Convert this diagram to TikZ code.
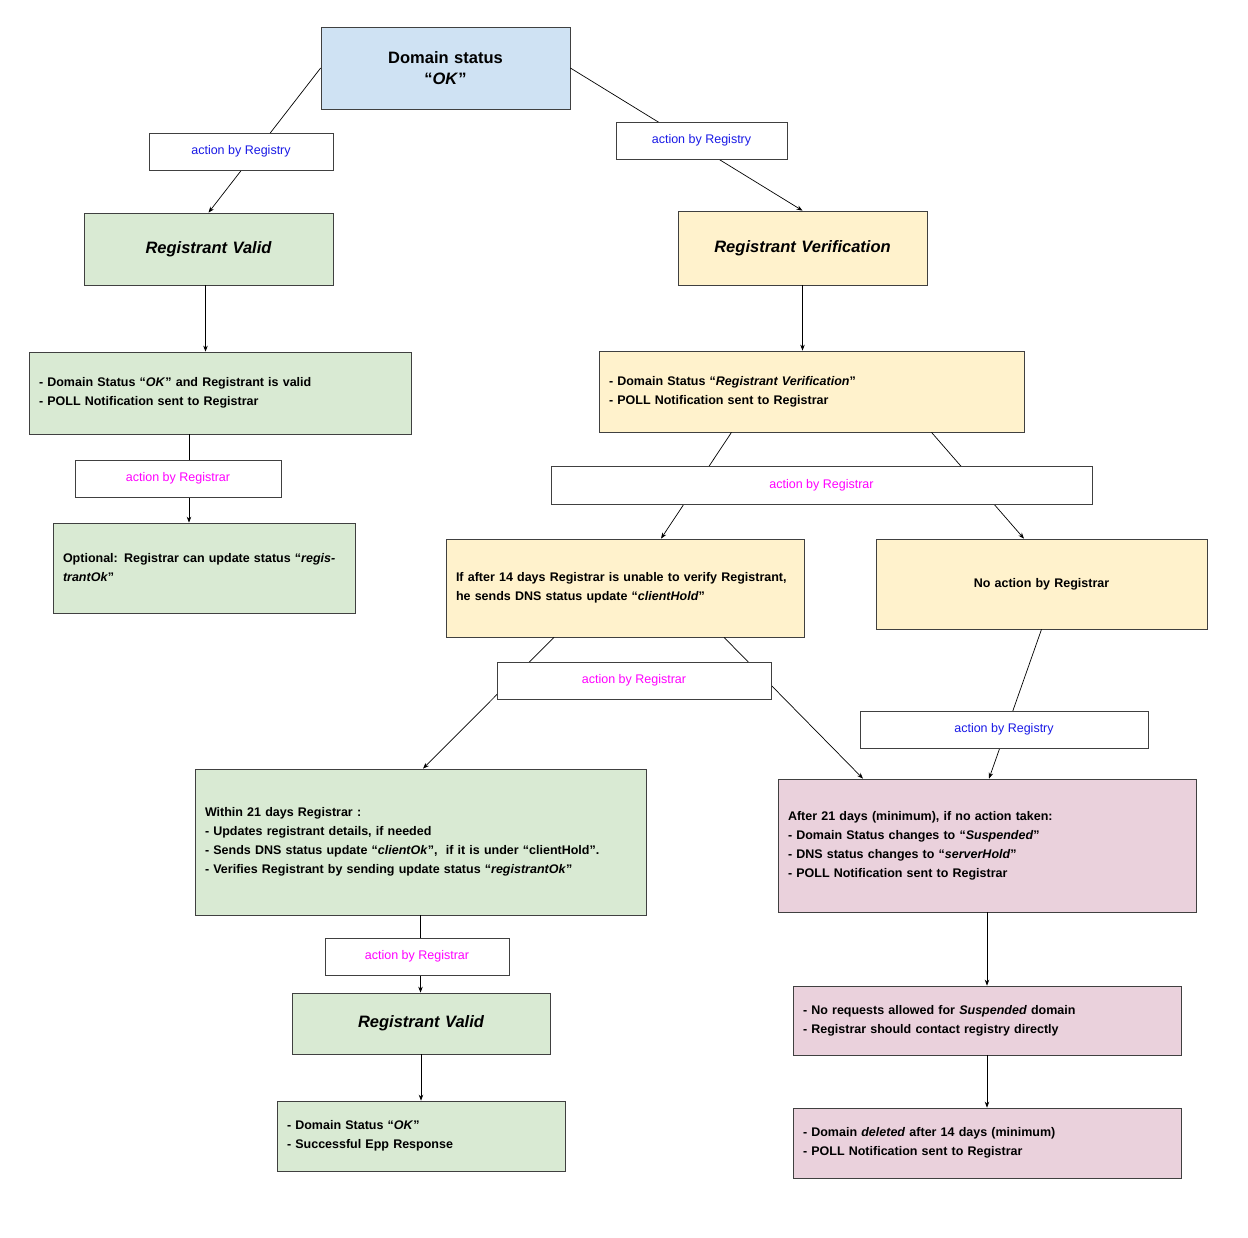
\documentclass[tikz,border=0pt]{standalone}
\usepackage{fontspec}
\setmainfont{Liberation Sans}
\usetikzlibrary{arrows.meta}
\definecolor{gfill}{HTML}{D9EAD3}
\definecolor{yfill}{HTML}{FFF2CC}
\definecolor{bfill}{HTML}{CFE2F3}
\definecolor{pfill}{HTML}{EAD1DC}
\definecolor{bordc}{HTML}{404040}
\definecolor{regy}{HTML}{1A1AE6}
\definecolor{regr}{HTML}{FF00FF}
\tikzset{
  box/.style={draw=bordc,line width=0.7pt,inner sep=0pt,font=\fontsize{12.5}{19}\selectfont\bfseries},
  lbl/.style={draw=bordc,fill=white,line width=0.7pt,inner sep=0pt,font=\fontsize{12.5}{15}\selectfont},
  conn/.style={line width=0.7pt,-{Stealth[length=6pt,width=4.5pt]}},
  plain/.style={line width=0.7pt}
}
\newcommand{\bx}[7]{\node[box,fill=#4,minimum width=#5pt,minimum height=#6pt,text width=#5pt-20pt,#7] (#1) at (#2,#3)}
\newcommand{\lb}[6]{\node[lbl,minimum width=#4pt,minimum height=#5pt,text=#6] (#1) at (#2,#3)}
\begin{document}
\begin{tikzpicture}[x=1pt,y=-1pt]
\useasboundingbox (0,0) rectangle (1248,1238);
\bx{OK}{445.5}{68}{bfill}{249}{82}{align=center,font=\fontsize{16.5}{21}\selectfont\bfseries}{Domain status\\ “\textit{OK}”};
\bx{RVa}{208.5}{249}{gfill}{249}{72}{align=center,font=\fontsize{16.5}{21}\selectfont\bfseries\itshape}{Registrant Valid};
\bx{RVer}{802.5}{248}{yfill}{249}{74}{align=center,font=\fontsize{16.5}{21}\selectfont\bfseries\itshape}{Registrant Verification};
\bx{G2}{220}{393}{gfill}{382}{82}{align=left}{- Domain Status “\textit{OK}” and Registrant is valid\\- POLL Notification sent to Registrar};
\bx{Y2}{811.5}{391.5}{yfill}{425}{81}{align=left}{- Domain Status “\textit{Registrant Verification}”\\- POLL Notification sent to Registrar};
\bx{G3}{204}{568}{gfill}{302}{90}{align=left}{Optional: Registrar can update status “\textit{registrantOk}”};
\bx{Y3}{625}{588}{yfill}{358}{98}{align=left}{If after 14 days Registrar is unable to verify Registrant, he sends DNS status update “\textit{clientHold}”};
\bx{Y4}{1041.5}{584}{yfill}{331}{90}{align=center}{No action by Registrar};
\bx{G4}{420.5}{842}{gfill}{451}{146}{align=left}{Within 21 days Registrar :\\- Updates registrant details, if needed\\- Sends DNS status update “\textit{clientOk}”,~ if it is under “clientHold”.\\- Verifies Registrant by sending update status “\textit{registrantOk}”};
\bx{P1}{987}{845.5}{pfill}{418}{133}{align=left}{After 21 days (minimum), if no action taken:\\- Domain Status changes to “\textit{Suspended}”\\- DNS status changes to “\textit{serverHold}”\\- POLL Notification sent to Registrar};
\bx{G5}{421}{1023.5}{gfill}{258}{61}{align=center,font=\fontsize{16.5}{21}\selectfont\bfseries\itshape}{Registrant Valid};
\bx{P2}{987}{1020.5}{pfill}{388}{69}{align=left}{- No requests allowed for \textit{Suspended} domain\\- Registrar should contact registry directly};
\bx{G6}{421}{1136}{gfill}{288}{70}{align=left}{- Domain Status “\textit{OK}”\\- Successful Epp Response};
\bx{P3}{987}{1143}{pfill}{388}{70}{align=left}{- Domain \textit{deleted} after 14 days (minimum)\\- POLL Notification sent to Registrar};
% connectors
\draw[conn] (OK.west) -- (RVa.north);
\draw[conn] (OK.east) -- (RVer.north);
\draw[conn] ([xshift=-3pt]RVa.south) -- ([xshift=-3pt]RVa.south |- G2.north);
\draw[conn] (RVer.south) -- (RVer.south |- Y2.north);
\draw[conn] ([xshift=-31pt]G2.south) -- ([xshift=-15pt]G3.north);
\draw[conn] ([xshift=-80pt]Y2.south) -- ([xshift=36pt]Y3.north);
\draw[conn] ([xshift=120pt]Y2.south) -- (Y4.north west -| 1024,0);
\draw[conn] ([xshift=-71pt]Y3.south) -- ([xshift=2.5pt]G4.north);
\draw[conn] ([xshift=99pt]Y3.south) -- ([xshift=-124pt]P1.north);
\draw[conn] (Y4.south) -- ([xshift=2pt]P1.north);
\draw[conn] (G4.south) -- (G4.south |- G5.north);
\draw[conn] (G5.south) -- (G6.north);
\draw[conn] (P1.south) -- (P2.north);
\draw[conn] (P2.south) -- (P3.north);
% labels
\lb{L1}{241}{151.5}{184}{37}{regy}{action by Registry};
\lb{R1}{701.5}{140.5}{171}{37}{regy}{action by Registry};
\lb{L2}{178}{478.5}{206}{37}{regr}{action by Registrar};
\lb{R2}{821.5}{485}{541}{38}{regr}{action by Registrar};
\lb{L3}{634}{680.5}{274}{37}{regr}{action by Registrar};
\lb{R3}{1004}{729.5}{288}{37}{regy}{action by Registry};
\lb{L4}{417}{956.5}{184}{37}{regr}{action by Registrar};
\end{tikzpicture}
\end{document}
